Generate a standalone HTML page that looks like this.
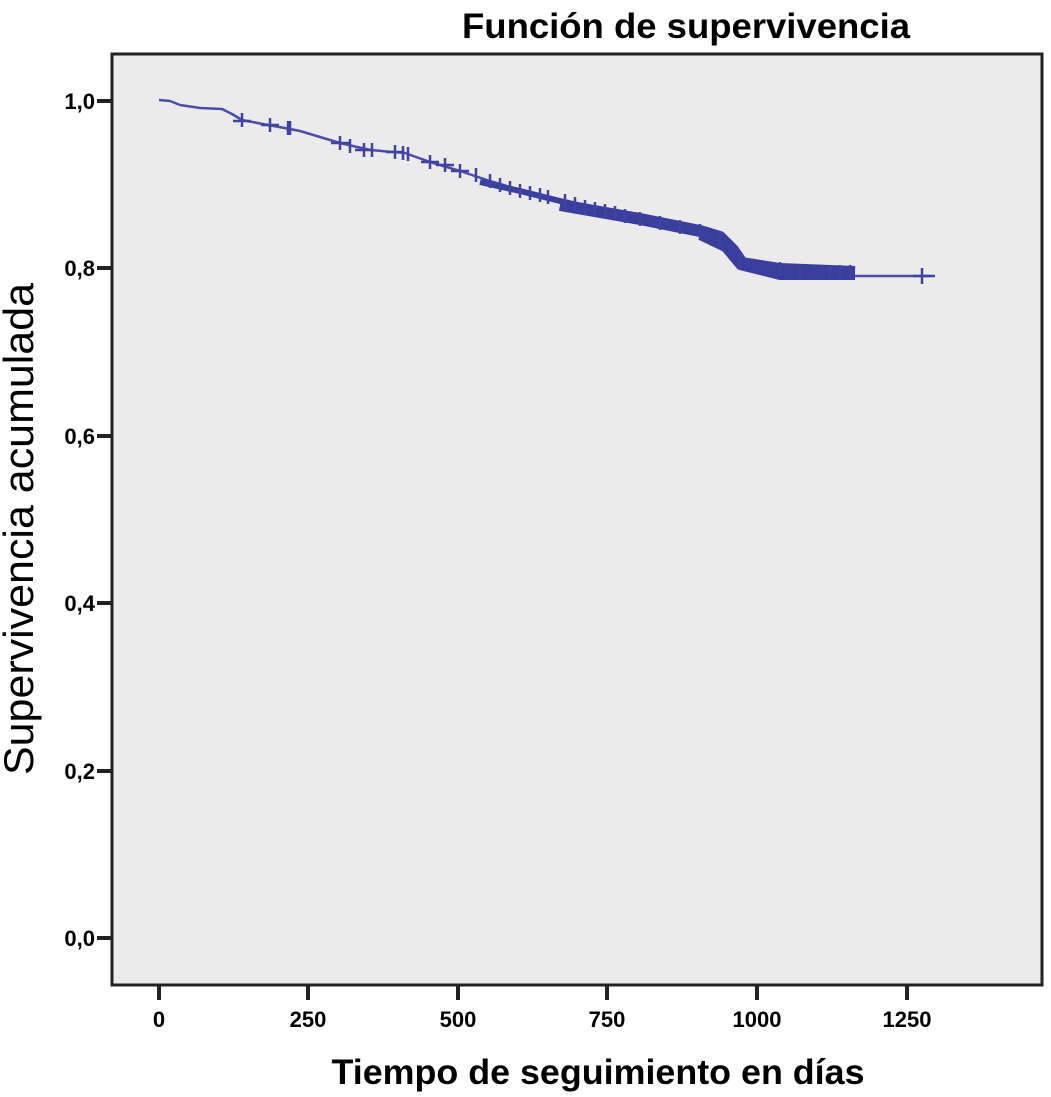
<!DOCTYPE html>
<html><head><style>
body{margin:0;background:#fff;}
svg{display:block;}
text{font-family:"Liberation Sans",Arial,sans-serif;fill:#000;}
</style></head><body>
<svg width="1051" height="1097" viewBox="0 0 1051 1097">
<rect x="0" y="0" width="1051" height="1097" fill="#fff"/>
<rect x="112" y="54" width="930" height="931" fill="#ebebeb" stroke="#222" stroke-width="3"/>
<text x="686" y="38" font-size="35" font-weight="bold" text-anchor="middle" textLength="448" lengthAdjust="spacingAndGlyphs">Función de supervivencia</text>
<text x="598" y="1084" font-size="35" font-weight="bold" text-anchor="middle" textLength="533" lengthAdjust="spacingAndGlyphs">Tiempo de seguimiento en días</text>
<text transform="translate(33,529) rotate(-90)" font-size="42" text-anchor="middle" textLength="492" lengthAdjust="spacingAndGlyphs">Supervivencia acumulada</text>
<g stroke="#222" stroke-width="4">
<line x1="97" y1="101" x2="112" y2="101"/><line x1="97" y1="268" x2="112" y2="268"/>
<line x1="97" y1="436" x2="112" y2="436"/><line x1="97" y1="603" x2="112" y2="603"/>
<line x1="97" y1="771" x2="112" y2="771"/><line x1="97" y1="938" x2="112" y2="938"/>
<line x1="159" y1="986" x2="159" y2="1000"/><line x1="308" y1="986" x2="308" y2="1000"/>
<line x1="458" y1="986" x2="458" y2="1000"/><line x1="607" y1="986" x2="607" y2="1000"/>
<line x1="757" y1="986" x2="757" y2="1000"/><line x1="907" y1="986" x2="907" y2="1000"/>
</g>
<g font-size="22" font-weight="bold" text-anchor="end">
<text x="95" y="109">1,0</text><text x="95" y="276">0,8</text><text x="95" y="444">0,6</text>
<text x="95" y="611">0,4</text><text x="95" y="779">0,2</text><text x="95" y="946">0,0</text>
</g>
<g font-size="22" font-weight="bold" text-anchor="middle">
<text x="159" y="1027">0</text><text x="308" y="1027">250</text><text x="458" y="1027">500</text>
<text x="607" y="1027">750</text><text x="757" y="1027">1000</text><text x="907" y="1027">1250</text>
</g>
<g fill="none" stroke="#4a4ea8" stroke-linejoin="round">
<polyline stroke-width="2.5" points="159,100 170,101 180,105 200,108 222,109 232,114 242,120 268,125 290,129 300,131 340,143 370,150 405,153 430,162 460,171 490,181 520,190 560,200 600,210 640,217 680,226 700,230 720,236 735,252 745,264 780,270 850,276 930,276"/>
<polyline stroke="#3a3f9e" stroke-width="6" points="480,182 520,191 560,201 600,210 640,218"/>
<polyline stroke="#3a3f9e" stroke-width="12" points="560,205 600,212 640,219 665,224 700,231 720,237 733,250 742,263 780,269 855,272"/>
<polyline stroke="#3a3f9e" stroke-width="8" points="700,236 725,248 740,266 780,276 855,276"/>
</g>
<g stroke="#3f44a2" stroke-width="2.5">
<path d="M242,113v14M233,121h18M270,118v14M261,125h18M288,121v14M290,121v14M340,136v14M331,143h18M350,139v14M364,143v14M355,150h18M372,143v14M395,145v14M386,152h18M403,146v14M408,147v14M430,155v14M421,162h18M445,158v14M436,165h18M460,164v14M451,171h18M476,168v14M490,174v14M500,178v14M510,181v14M520,184v14M530,186v14M540,188v14M548,190v14M565,194v14M575,197v14M585,200v14M595,202v14M605,204v14M615,206v14M625,209v14M640,212v14M660,216v14M680,220v14M700,224v14M720,232v14M740,254v14M780,262v14M800,264v14M830,265v14M840,265v14M850,265v14M922,268v16M913,276h22"/>
</g>
</svg>
</body></html>
